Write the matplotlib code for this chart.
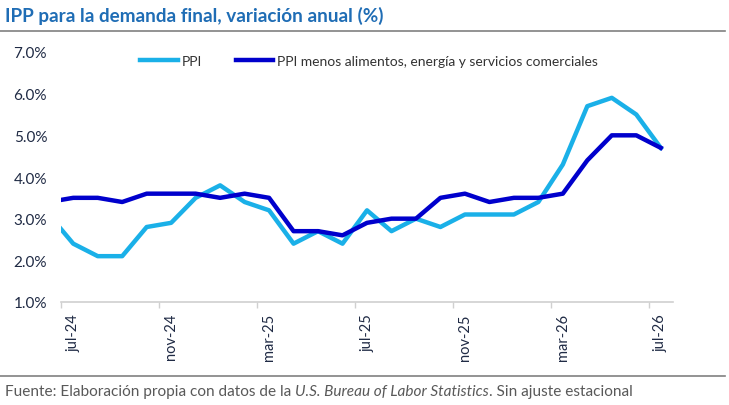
import matplotlib
matplotlib.use("Agg")
import matplotlib.pyplot as plt
from matplotlib.lines import Line2D

# monthly categories, jun-24 sits just outside the left edge (the line is cut there)
months = ["jun-24", "jul-24", "ago-24", "sep-24", "oct-24", "nov-24", "dic-24",
          "ene-25", "feb-25", "mar-25", "abr-25", "may-25", "jun-25", "jul-25",
          "ago-25", "sep-25", "oct-25", "nov-25", "dic-25", "ene-26", "feb-26",
          "mar-26", "abr-26", "may-26", "jun-26", "jul-26"]
ppi = [3.1, 2.4, 2.1, 2.1, 2.8, 2.9, 3.5, 3.8, 3.4, 3.2, 2.4, 2.7, 2.4, 3.2,
       2.7, 3.0, 2.8, 3.1, 3.1, 3.1, 3.4, 4.3, 5.7, 5.9, 5.5, 4.7]
ppi_core = [3.4, 3.5, 3.5, 3.4, 3.6, 3.6, 3.6, 3.5, 3.6, 3.5, 2.7, 2.7, 2.6, 2.9,
            3.0, 3.0, 3.5, 3.6, 3.4, 3.5, 3.5, 3.6, 4.4, 5.0, 5.0, 4.7]
tick_labels = ["jul-24", "nov-24", "mar-25", "jul-25", "nov-25", "mar-26", "jul-26"]
y_ticks = [1.0, 2.0, 3.0, 4.0, 5.0, 6.0, 7.0]

light = "#1AB0E8"
dark = "#0000CC"
navy = "#1F2A44"

plt.rcParams['font.family'] = ['Lato', 'DejaVu Sans']

fig = plt.figure(figsize=(7.29, 4.06), dpi=100)
ax = fig.add_axes([61/729, 1 - 303/406, (673 - 61)/729, (303 - 53)/406])

x = [i - 1 for i in range(len(months))]
ax.plot(x, ppi, color=light, lw=3.2, solid_joinstyle="round")
ax.plot(x, ppi_core, color=dark, lw=3.2, solid_joinstyle="round")

ax.set_xlim(-0.5, 24.5)
ax.set_ylim(1.0, 7.0)

# tick marks at category boundaries, labels at the category centers
ax.set_xticks([i - 0.5 for i in range(0, 25, 4)])
ax.set_xticklabels([])
ax.set_xticks(range(0, 25, 4), minor=True)
ax.set_xticklabels(tick_labels, minor=True, rotation=90, fontsize=10.5, color=navy)
ax.tick_params(axis="x", which="major", length=4, color="#D0D0D0", width=1)
ax.tick_params(axis="x", which="minor", length=0, pad=8)

ax.set_yticks(y_ticks)
ax.set_yticklabels(["%.1f%%" % v for v in y_ticks], fontsize=11, color=navy)
ax.tick_params(axis="y", length=0, pad=10)

for s in ["top", "right", "left"]:
    ax.spines[s].set_visible(False)
ax.spines["bottom"].set_color("#D0D0D0")
ax.spines["bottom"].set_linewidth(1.2)

handles = [Line2D([], [], color=light, lw=3.2),
           Line2D([], [], color=dark, lw=3.2)]
fig.legend(handles, ["PPI", "PPI menos alimentos, energía y servicios comerciales"],
           loc="center left", bbox_to_anchor=(128/729, 1 - 62/406), ncol=2,
           frameon=False, fontsize=10, handlelength=2.7, handletextpad=0.3,
           columnspacing=2.4, labelcolor="#333333")

fig.text(5/729, 1 - 16/406, "IPP para la demanda final, variación anual (%)",
         fontsize=13.6, fontweight="bold", color="#1F6DB5", va="center", ha="left")
fig.add_artist(Line2D([0, 725/729], [1 - 32/406, 1 - 32/406], color="#808080", lw=1.2))
fig.add_artist(Line2D([0, 725/729], [1 - 377/406, 1 - 377/406], color="#808080", lw=1.2))

t1 = fig.text(5/729, 1 - 392/406, "Fuente: Elaboración propia con datos de la ",
              fontsize=11.1, color="#595959", va="center", ha="left")
fig.canvas.draw()
r = fig.canvas.get_renderer()
bb = t1.get_window_extent(r)
t2 = fig.text(bb.x1 / 729, 1 - 392/406, "U.S. Bureau of Labor Statistics",
              fontsize=11.1, color="#595959", va="center", ha="left", style="italic")
bb2 = t2.get_window_extent(r)
fig.text(bb2.x1 / 729, 1 - 392/406, ". Sin ajuste estacional",
         fontsize=11.1, color="#595959", va="center", ha="left")

fig.savefig("out.png", dpi=100)
